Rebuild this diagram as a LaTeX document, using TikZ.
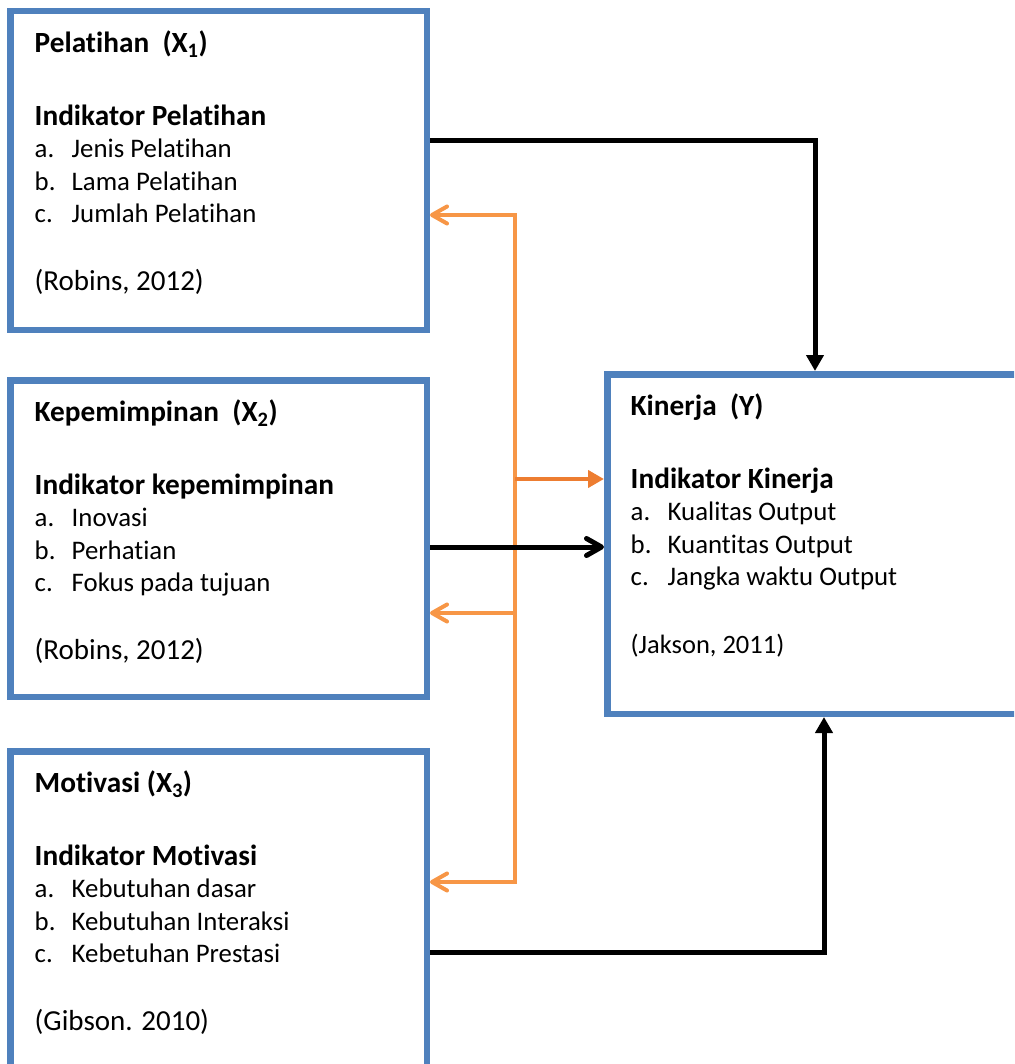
\documentclass[tikz,border=0pt]{standalone}
\usepackage{fontspec}
\setmainfont{Carlito}[Ligatures=NoCommon, RawFeature={-clig;-calt}]
\usetikzlibrary{positioning, arrows.meta, calc}
\definecolor{BoxBlue}{RGB}{79,129,189}
\definecolor{LinkOrange}{RGB}{247,150,70}
\definecolor{DeepOrange}{RGB}{237,125,49}
\newcommand{\ListItem}[2]{\makebox[37pt][l]{#1}#2}
\newcommand{\HeadLine}[1]{{\fontsize{29.3}{32.5}\selectfont\bfseries #1}}
\newcommand{\SourceLine}[2][29]{{\fontsize{#1}{32.5}\selectfont #2}}

\begin{document}
\begin{tikzpicture}[x=1pt, y=1pt,
    varbox/.style={draw=BoxBlue, line width=6.5pt, rectangle, anchor=north west, minimum width=416.5pt},
    vartext/.style={anchor=north west, inner sep=0pt, align=left, font=\fontsize{26.8}{32.5}\selectfont},
    blackline/.style={line width=5pt, black},
    orangeline/.style={line width=4pt, LinkOrange},
    solidtip/.style={-{Triangle[length=16pt,width=17pt]}},
    opentip/.style={-{Straight Barb[length=15pt,width=17pt,round]}}]
  \useasboundingbox (0,0) rectangle (1014,-1064);
  \clip (0,0) rectangle (1014,-1064);

  % boxes
  \node[varbox, minimum height=318.5pt] (X1) at (7,-8) {};
  \node[varbox, minimum height=316.5pt] (X2) at (7,-377) {};
  \node[varbox, minimum height=401.5pt] (X3) at (7,-748) {};
  \node[varbox, minimum width=415.5pt, minimum height=339.5pt] (Y) at (604,-371) {};

  \node[vartext] (T1) at ([shift={(27.5pt,-22.5pt)}]X1.north west) {\HeadLine{Pelatihan\ \ (X\textsubscript{1})}\\[40.5pt]
    \HeadLine{Indikator Pelatihan}\\
    \ListItem{a.}{Jenis Pelatihan}\\
    \ListItem{b.}{Lama Pelatihan}\\
    \ListItem{c.}{Jumlah Pelatihan}\\[35.5pt]
    \SourceLine{(Robins, 2012)}};
  \node[vartext] (T2) at ([shift={(27.5pt,-22.5pt)}]X2.north west) {\HeadLine{Kepemimpinan\ \ (X\textsubscript{2})}\\[40.5pt]
    \HeadLine{Indikator kepemimpinan}\\
    \ListItem{a.}{Inovasi}\\
    \ListItem{b.}{Perhatian}\\
    \ListItem{c.}{Fokus pada tujuan}\\[35.5pt]
    \SourceLine{(Robins, 2012)}};
  \node[vartext] (T3) at ([shift={(27.5pt,-22.5pt)}]X3.north west) {\HeadLine{Motivasi (X\textsubscript{3})}\\[40.5pt]
    \HeadLine{Indikator Motivasi}\\
    \ListItem{a.}{Kebutuhan dasar}\\
    \ListItem{b.}{Kebutuhan Interaksi}\\
    \ListItem{c.}{Kebetuhan Prestasi}\\[35.5pt]
    \SourceLine{(Gibson. 2010)}};
  \node[vartext] (TY) at ([shift={(26.5pt,-22.5pt)}]Y.north west) {\HeadLine{Kinerja\ \ (Y)}\\[40.5pt]
    \HeadLine{Indikator Kinerja}\\
    \ListItem{a.}{Kualitas Output}\\
    \ListItem{b.}{Kuantitas Output}\\
    \ListItem{c.}{Jangka waktu Output}\\[35.5pt]
    \SourceLine[26.5]{(Jakson, 2011)}};

  % orange links
  \coordinate (bt) at (515,-215);
  \coordinate (bo) at (515,-479);
  \coordinate (bm) at (515,-613);
  \coordinate (bb) at (515,-882);
  \draw[orangeline, {Straight Barb[length=15pt,width=17pt,round]}-{Straight Barb[length=15pt,width=17pt,round]}] (bt -| X1.east) -- (bt) -- (bb) -- (bb -| X3.east);
  \draw[orangeline, opentip] (bm) -- (bm -| X2.east);
  \draw[orangeline, DeepOrange, solidtip] (bo) -- (bo -| Y.west);

  % black links
  \coordinate (k1) at ([yshift=29.5pt]X1.east);
  \coordinate (k2) at ([yshift=-8.5pt]X2.east);
  \draw[blackline, solidtip] (k1) -| (Y.north);
  \draw[blackline, opentip] (k2) -- (k2 -| Y.west);
  \draw[blackline, solidtip] (X3.east) -| ([xshift=9pt]Y.south);
\end{tikzpicture}
\end{document}
